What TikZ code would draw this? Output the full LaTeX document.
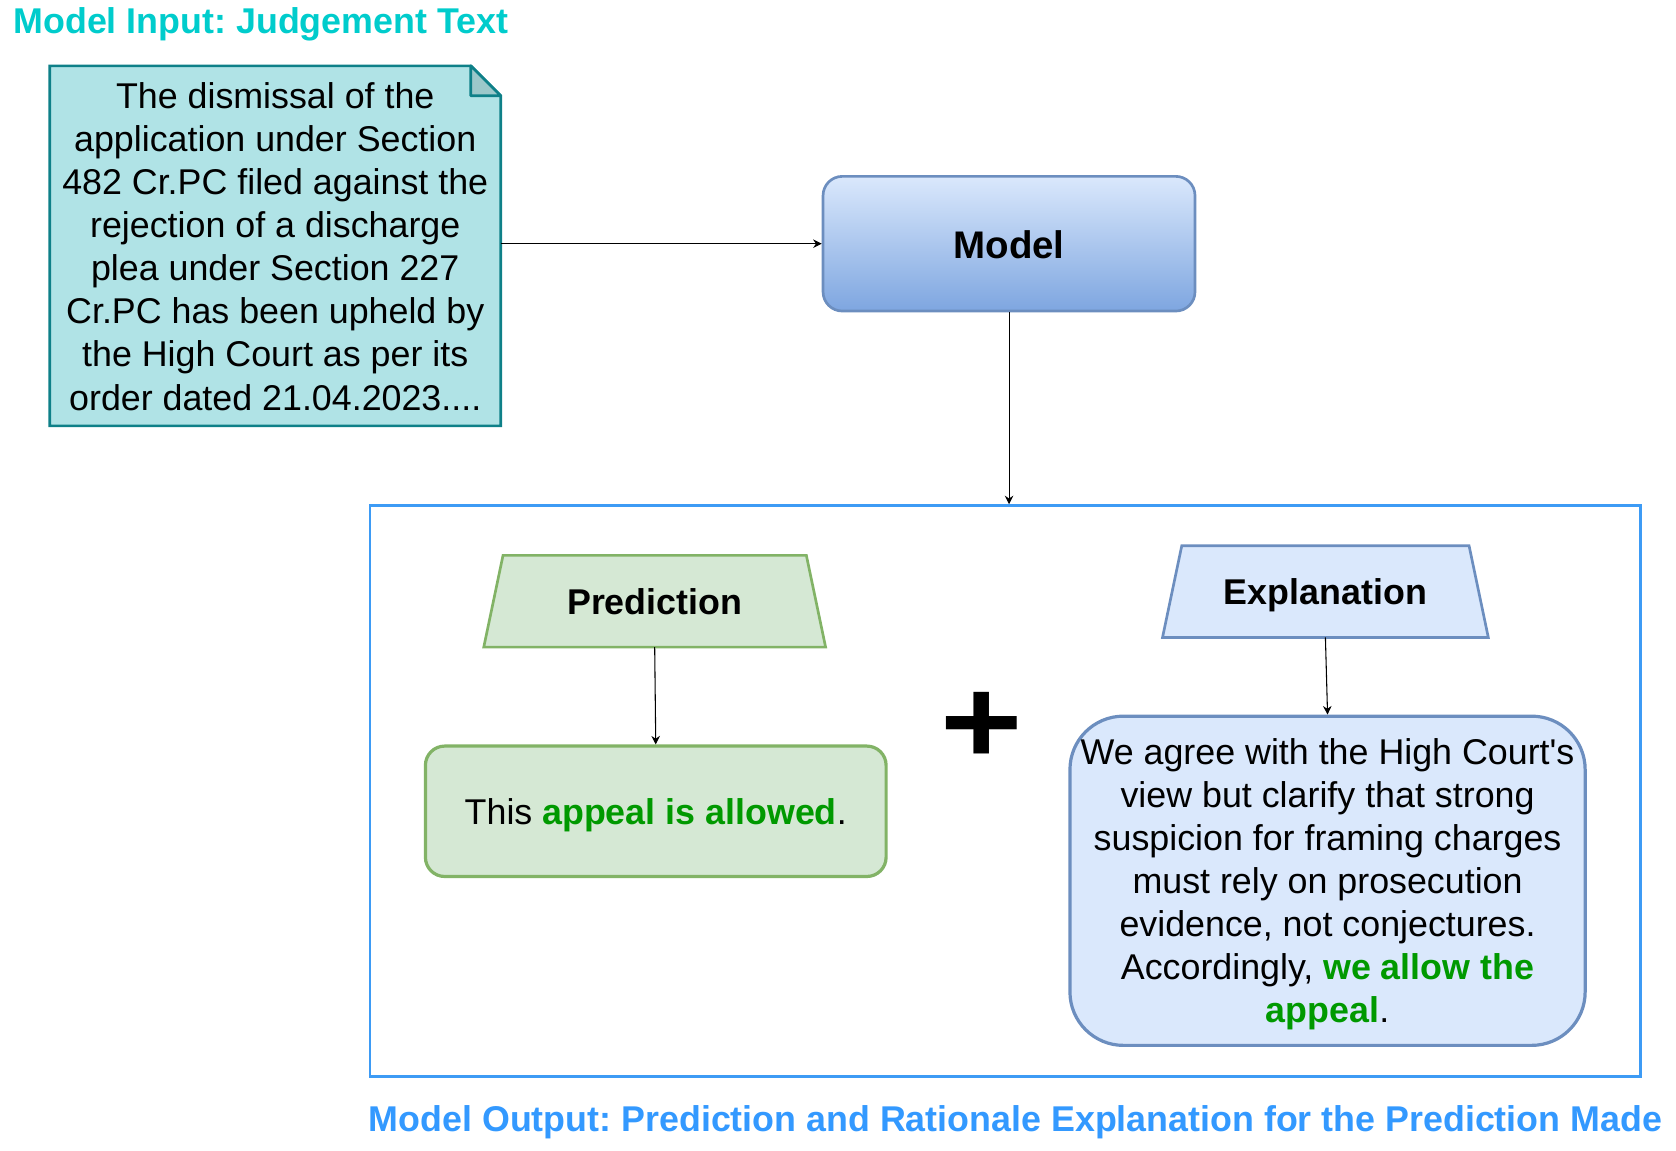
\documentclass[tikz,border=0pt]{standalone}
\usepackage{fontspec}
\setmainfont{Liberation Sans}
\usetikzlibrary{arrows.meta,backgrounds}
\definecolor{tealT}{HTML}{00CCCC}
\definecolor{blueT}{HTML}{3399FF}
\definecolor{noteFill}{HTML}{B0E3E6}
\definecolor{noteLine}{HTML}{0E8088}
\definecolor{gFill}{HTML}{D5E8D4}
\definecolor{gLine}{HTML}{82B366}
\definecolor{bFill}{HTML}{DAE8FC}
\definecolor{bLine}{HTML}{6C8EBF}
\definecolor{bDark}{HTML}{7EA6E0}
\definecolor{okGreen}{HTML}{009900}
\definecolor{frameBlue}{HTML}{3D9BF5}
\frenchspacing
\newcommand{\lowerby}[2]{\raisebox{-#1}[\height][\depth]{#2}}
\begin{document}
\begin{tikzpicture}[x=0.5pt,y=-0.5pt,
  txt/.style={font=\fontsize{16.75pt}{20.15pt}\selectfont, align=center, inner sep=0pt},
  boldtxt/.style={font=\fontsize{16.75pt}{20.15pt}\selectfont\bfseries, align=center, inner sep=0pt},
  conn/.style={line width=0.5pt, draw=black, -{Stealth[length=4pt,width=4pt,inset=1.3pt]}},
  shapeline/.style={line width=1.25pt},
]
\useasboundingbox (0,0) rectangle (1568,1075.9);

% titles
\node[boldtxt, text=tealT, anchor=base] (tin) at (244,31) {Model Input: Judgement Text};
\node[boldtxt, text=blueT, anchor=base] (tout) at (950,1059) {Model Output: Prediction and Rationale Explanation for the Prediction Made};

% note
\node[txt, minimum width=210.5pt, minimum height=168pt] (note) at (257.5,230)
 {\lowerby{2.25pt}{\begin{tabular}{@{}c@{}}The dismissal of the\\application under Section\\482 Cr.PC filed against the\\rejection of a discharge\\plea under Section 227\\Cr.PC has been upheld by\\the High Court as per its\\order dated 21.04.2023....\end{tabular}}};

% model
\node[font=\fontsize{18pt}{21pt}\selectfont\bfseries, inner sep=0pt, minimum width=174pt, minimum height=63pt,
  rounded corners=9pt, draw=bLine, shapeline, top color=bFill, bottom color=bDark] (model) at (944,228) {\lowerby{0.5pt}{Model}};

% output frame
\node[draw=frameBlue, shapeline, minimum width=594.5pt, minimum height=267pt, inner sep=0pt] (out) at (940.5,740) {};

% prediction
\node[boldtxt, minimum width=159.5pt, minimum height=42.5pt] (pred) at (612.5,562.5) {Prediction};
\node[txt, minimum width=215.5pt, minimum height=61pt, rounded corners=9pt, draw=gLine, fill=gFill, line width=1.5pt]
  (predres) at (613.5,759) {\lowerby{2pt}{This \textcolor{okGreen}{\bfseries appeal is allowed}.}};

% plus
\node[font=\fontsize{66pt}{66pt}\selectfont\bfseries, yscale=0.86, inner sep=0pt] (plus) at (918,681) {+};

% explanation
\node[boldtxt, minimum width=152pt, minimum height=42.5pt] (expl) at (1240,553.5) {\lowerby{1.5pt}{Explanation}};
\node[txt, minimum width=241pt, minimum height=154pt, rounded corners=25pt, draw=bLine, fill=bFill, line width=1.5pt]
  (explres) at (1242,824)
  {\lowerby{2pt}{\begin{tabular}{@{}c@{}}We agree with the High Court\textquotesingle s\\view but clarify that strong\\suspicion for framing charges\\must rely on prosecution\\evidence, not conjectures.\\Accordingly, \textcolor{okGreen}{\bfseries we allow the}\\\textcolor{okGreen}{\bfseries appeal}.\end{tabular}}};

\begin{scope}[on background layer]
  \draw[shapeline, draw=noteLine, fill=noteFill]
    (note.south west) -- (note.north west) -- ([xshift=-14pt]note.north east)
    -- ([yshift=-14pt]note.north east) -- (note.south east) -- cycle;
  \draw[shapeline, draw=noteLine, fill=noteFill!88!black, line join=round]
    ([xshift=-14pt]note.north east) -- ([xshift=-14pt,yshift=-14pt]note.north east)
    -- ([yshift=-14pt]note.north east) -- cycle;
  \draw[shapeline, draw=gLine, fill=gFill]
    (pred.south west) -- ([xshift=9pt]pred.north west) -- ([xshift=-9pt]pred.north east) -- (pred.south east) -- cycle;
  \draw[shapeline, draw=bLine, fill=bFill]
    (expl.south west) -- ([xshift=9pt]expl.north west) -- ([xshift=-9pt]expl.north east) -- (expl.south east) -- cycle;
\end{scope}

% connectors
\draw[conn] (note.east |- model.west) -- (model.west);
\draw[conn] (model.south) -- (model.south |- out.north);
\draw[conn] (pred.south) -- (predres.north);
\draw[conn] (expl.south) -- (explres.north);
\end{tikzpicture}
\end{document}
